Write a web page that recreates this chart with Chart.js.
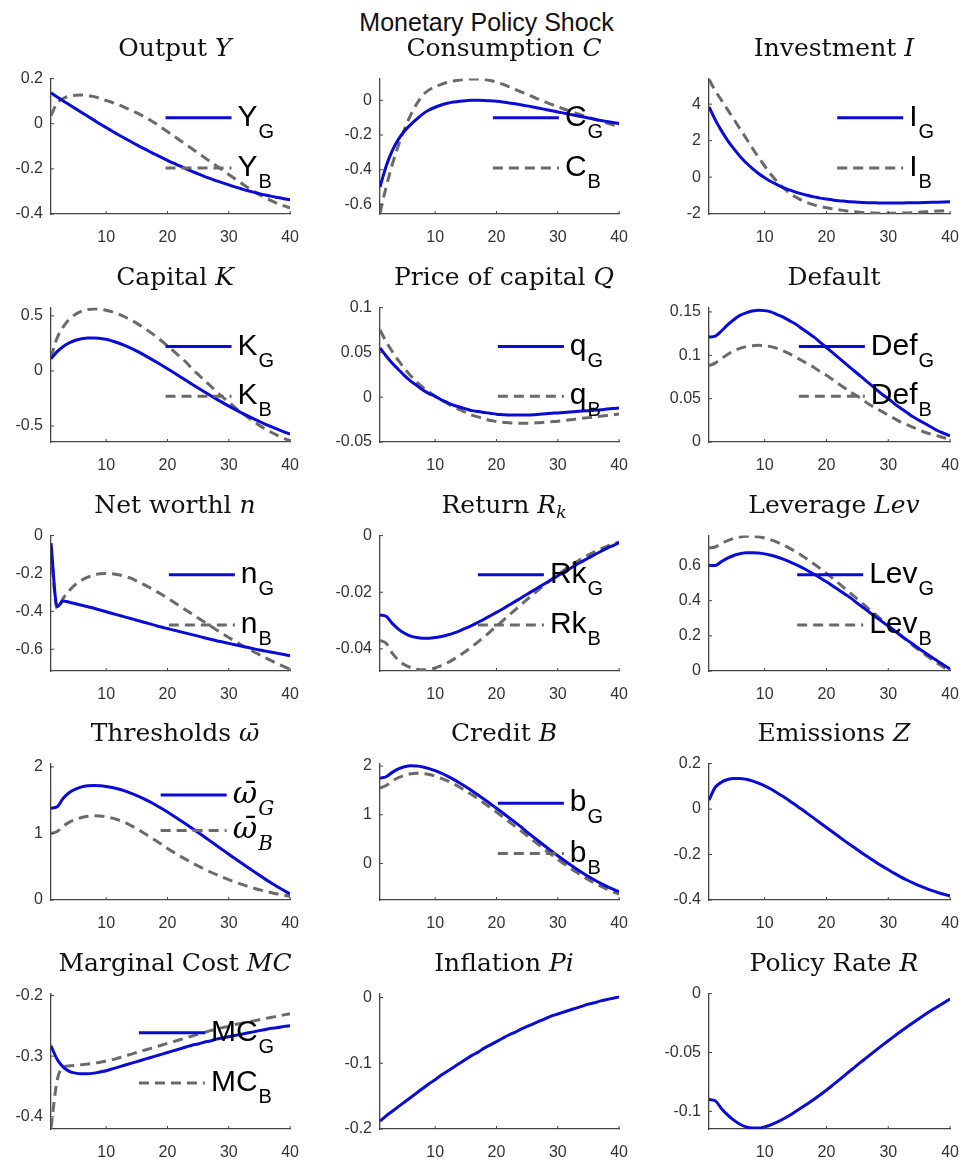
<!DOCTYPE html>
<html>
<head>
<meta charset="utf-8">
<script src="https://cdn.jsdelivr.net/npm/chart.js@4.4.1/dist/chart.umd.min.js"></script>
<style>
  body { margin: 0; background: #fff; width: 973px; height: 1166px; position: relative; overflow: hidden; }
  canvas { position: absolute; }
  .ttl { position: absolute; font-family: "DejaVu Serif", serif; font-size: 25px; line-height: 1; color: #111; white-space: nowrap; transform: translateX(-50%); }
  .ttl sub { font-size: 17px; vertical-align: -5px; }
  #sup { position: absolute; left: 0; width: 973px; top: 10px; text-align: center; font-family: "Liberation Sans", Arial, sans-serif; font-size: 25px; line-height: 1; color: #111; }
</style>
</head>
<body>
<div id="sup">Monetary Policy Shock</div>
<script>
// horizonte (trimestres) y marcas del eje x
const periods = Array.from({ length: 40 }, (_, i) => i + 1);
const xTicks = [10, 20, 30, 40];

// Output Y
const outputG = [0.137,0.119,0.101,0.084,0.067,0.050,0.033,0.016,-0.001,-0.017,-0.033,-0.049,-0.064,-0.079,-0.094,-0.108,-0.122,-0.136,-0.149,-0.162,-0.175,-0.187,-0.199,-0.211,-0.222,-0.233,-0.243,-0.253,-0.262,-0.271,-0.280,-0.288,-0.296,-0.303,-0.310,-0.316,-0.322,-0.327,-0.332,-0.337];
const outputB = [0.036,0.092,0.112,0.122,0.126,0.127,0.125,0.120,0.112,0.103,0.094,0.084,0.073,0.061,0.048,0.034,0.019,0.002,-0.016,-0.035,-0.054,-0.073,-0.092,-0.111,-0.130,-0.149,-0.168,-0.187,-0.206,-0.225,-0.244,-0.263,-0.281,-0.298,-0.314,-0.329,-0.342,-0.354,-0.364,-0.373];
const outputTicks = [-0.4, -0.2, 0, 0.2];

// Consumption C
const consG = [-0.500,-0.380,-0.290,-0.225,-0.177,-0.140,-0.108,-0.078,-0.056,-0.040,-0.027,-0.017,-0.010,-0.005,-0.002,0.000,0.000,-0.001,-0.003,-0.006,-0.010,-0.015,-0.020,-0.026,-0.032,-0.039,-0.046,-0.053,-0.060,-0.067,-0.074,-0.081,-0.088,-0.095,-0.102,-0.109,-0.116,-0.122,-0.128,-0.134];
const consB = [-0.650,-0.500,-0.370,-0.260,-0.165,-0.085,-0.020,0.030,0.060,0.078,0.092,0.103,0.111,0.117,0.121,0.123,0.123,0.120,0.114,0.105,0.093,0.079,0.064,0.049,0.034,0.019,0.004,-0.010,-0.024,-0.037,-0.050,-0.063,-0.075,-0.087,-0.098,-0.109,-0.120,-0.131,-0.141,-0.151];
const consTicks = [-0.6, -0.4, -0.2, 0];

// Investment I
const invG = [3.85,3.15,2.55,2.02,1.56,1.15,0.79,0.48,0.20,-0.03,-0.24,-0.41,-0.57,-0.70,-0.82,-0.92,-1.01,-1.08,-1.15,-1.20,-1.25,-1.29,-1.32,-1.35,-1.37,-1.39,-1.40,-1.41,-1.42,-1.42,-1.42,-1.42,-1.41,-1.41,-1.40,-1.39,-1.38,-1.37,-1.36,-1.35];
const invB = [5.35,4.75,4.22,3.70,3.18,2.66,2.13,1.60,1.09,0.61,0.16,-0.24,-0.58,-0.86,-1.09,-1.27,-1.41,-1.52,-1.61,-1.68,-1.74,-1.79,-1.84,-1.88,-1.91,-1.94,-1.96,-1.97,-1.98,-1.98,-1.98,-1.97,-1.96,-1.94,-1.92,-1.90,-1.88,-1.86,-1.84,-1.82];
const invTicks = [-2, 0, 2, 4];

// Capital K
const capG = [0.110,0.175,0.222,0.256,0.279,0.293,0.300,0.300,0.295,0.287,0.272,0.254,0.233,0.208,0.180,0.150,0.119,0.087,0.054,0.020,-0.015,-0.050,-0.085,-0.120,-0.155,-0.189,-0.223,-0.256,-0.288,-0.319,-0.349,-0.378,-0.406,-0.433,-0.459,-0.484,-0.508,-0.531,-0.553,-0.574];
const capB = [0.120,0.300,0.400,0.470,0.515,0.543,0.558,0.563,0.560,0.551,0.536,0.516,0.492,0.464,0.432,0.397,0.359,0.318,0.274,0.228,0.180,0.131,0.081,0.020,-0.032,-0.084,-0.136,-0.187,-0.237,-0.285,-0.331,-0.375,-0.417,-0.457,-0.494,-0.528,-0.559,-0.587,-0.612,-0.634];
const capTicks = [-0.5, 0, 0.5];

// Price of capital Q
const priceG = [0.055,0.046,0.038,0.031,0.024,0.018,0.013,0.008,0.004,0.001,-0.003,-0.006,-0.009,-0.011,-0.013,-0.015,-0.016,-0.017,-0.018,-0.019,-0.0195,-0.020,-0.020,-0.020,-0.0198,-0.0195,-0.019,-0.0185,-0.018,-0.0175,-0.017,-0.0165,-0.016,-0.0155,-0.015,-0.0145,-0.014,-0.0133,-0.0127,-0.012];
const priceB = [0.075,0.062,0.051,0.041,0.032,0.024,0.017,0.011,0.006,0.001,-0.003,-0.007,-0.011,-0.014,-0.017,-0.020,-0.022,-0.024,-0.026,-0.027,-0.028,-0.0285,-0.029,-0.029,-0.029,-0.0288,-0.0284,-0.028,-0.0274,-0.0268,-0.026,-0.0252,-0.0244,-0.0236,-0.0228,-0.022,-0.0212,-0.0204,-0.0196,-0.0188];
const priceTicks = [-0.05, 0, 0.05, 0.1];

// Default
const defG = [0.121,0.122,0.128,0.135,0.141,0.146,0.149,0.151,0.152,0.1515,0.150,0.147,0.144,0.140,0.136,0.131,0.126,0.121,0.115,0.109,0.103,0.097,0.091,0.085,0.079,0.073,0.067,0.061,0.055,0.050,0.044,0.039,0.034,0.029,0.025,0.021,0.017,0.013,0.010,0.007];
const defB = [0.088,0.091,0.096,0.101,0.105,0.108,0.110,0.111,0.1115,0.111,0.110,0.108,0.105,0.102,0.098,0.094,0.090,0.086,0.081,0.077,0.072,0.067,0.062,0.057,0.053,0.048,0.043,0.039,0.035,0.031,0.027,0.023,0.020,0.017,0.014,0.011,0.009,0.007,0.005,0.004];
const defTicks = [0, 0.05, 0.1, 0.15];

// Net worth n
const netG = [-0.040,-0.375,-0.345,-0.352,-0.360,-0.368,-0.376,-0.384,-0.393,-0.402,-0.411,-0.420,-0.429,-0.438,-0.447,-0.456,-0.465,-0.474,-0.483,-0.491,-0.499,-0.507,-0.515,-0.523,-0.531,-0.539,-0.547,-0.555,-0.562,-0.569,-0.576,-0.583,-0.590,-0.597,-0.604,-0.610,-0.616,-0.622,-0.628,-0.634];
const netB = [-0.080,-0.385,-0.330,-0.290,-0.258,-0.235,-0.219,-0.208,-0.202,-0.200,-0.202,-0.207,-0.215,-0.225,-0.240,-0.256,-0.273,-0.291,-0.310,-0.330,-0.351,-0.372,-0.393,-0.414,-0.435,-0.456,-0.477,-0.498,-0.518,-0.538,-0.557,-0.576,-0.594,-0.612,-0.629,-0.646,-0.662,-0.677,-0.692,-0.706];
const netTicks = [-0.6, -0.4, -0.2, 0];

// Return Rk
const retG = [-0.0280,-0.0285,-0.0310,-0.0330,-0.0345,-0.0355,-0.0360,-0.0362,-0.0362,-0.0360,-0.0356,-0.0351,-0.0344,-0.0336,-0.0327,-0.0317,-0.0306,-0.0295,-0.0283,-0.0271,-0.0259,-0.0246,-0.0233,-0.0220,-0.0207,-0.0194,-0.0181,-0.0168,-0.0155,-0.0142,-0.0129,-0.0116,-0.0103,-0.0091,-0.0079,-0.0067,-0.0056,-0.0045,-0.0035,-0.0025];
const retB = [-0.0370,-0.0380,-0.0415,-0.0440,-0.0456,-0.0466,-0.0472,-0.0474,-0.0472,-0.0467,-0.0459,-0.0449,-0.0437,-0.0423,-0.0408,-0.0392,-0.0375,-0.0357,-0.0339,-0.0320,-0.0301,-0.0282,-0.0263,-0.0244,-0.0225,-0.0207,-0.0189,-0.0171,-0.0154,-0.0138,-0.0122,-0.0107,-0.0093,-0.0080,-0.0068,-0.0057,-0.0047,-0.0038,-0.0030,-0.0023];
const retTicks = [-0.04, -0.02, 0];

// Leverage Lev
const levG = [0.600,0.600,0.622,0.642,0.657,0.667,0.672,0.673,0.671,0.666,0.658,0.648,0.636,0.622,0.606,0.589,0.570,0.550,0.529,0.507,0.484,0.461,0.437,0.413,0.385,0.359,0.333,0.307,0.281,0.255,0.229,0.203,0.177,0.152,0.127,0.103,0.079,0.056,0.033,0.011];
const levB = [0.700,0.705,0.725,0.742,0.754,0.762,0.766,0.766,0.763,0.756,0.746,0.733,0.717,0.699,0.679,0.657,0.633,0.608,0.582,0.555,0.527,0.498,0.469,0.439,0.409,0.379,0.349,0.319,0.289,0.259,0.230,0.201,0.173,0.145,0.118,0.092,0.067,0.043,0.020,0.000];
const levTicks = [0, 0.2, 0.4, 0.6];

// Thresholds omega bar
const thrG = [1.380,1.400,1.530,1.615,1.665,1.700,1.717,1.722,1.718,1.707,1.690,1.668,1.640,1.607,1.570,1.528,1.482,1.432,1.378,1.322,1.264,1.204,1.142,1.079,1.015,0.950,0.885,0.819,0.753,0.688,0.623,0.559,0.496,0.434,0.371,0.310,0.252,0.196,0.142,0.090];
const thrB = [1.000,1.030,1.110,1.170,1.210,1.240,1.258,1.265,1.262,1.250,1.230,1.202,1.168,1.120,1.070,1.015,0.957,0.898,0.840,0.775,0.718,0.663,0.610,0.559,0.511,0.465,0.421,0.380,0.341,0.305,0.271,0.239,0.209,0.181,0.155,0.131,0.109,0.089,0.071,0.055];
const thrTicks = [0, 1, 2];

// Credit B
const credG = [1.750,1.780,1.870,1.940,1.985,2.005,2.000,1.980,1.948,1.905,1.853,1.793,1.726,1.653,1.575,1.493,1.407,1.318,1.227,1.134,1.040,0.945,0.849,0.750,0.645,0.545,0.446,0.348,0.252,0.158,0.066,-0.023,-0.109,-0.191,-0.268,-0.340,-0.407,-0.469,-0.526,-0.578];
const credB = [1.550,1.600,1.690,1.760,1.810,1.840,1.850,1.845,1.825,1.792,1.748,1.695,1.633,1.564,1.489,1.409,1.325,1.237,1.146,1.053,0.958,0.862,0.765,0.668,0.571,0.470,0.370,0.272,0.176,0.083,-0.007,-0.094,-0.177,-0.256,-0.331,-0.401,-0.466,-0.526,-0.581,-0.631];
const credTicks = [0, 1, 2];

// Emissions Z
const emis = [0.040,0.095,0.118,0.130,0.135,0.135,0.131,0.124,0.114,0.102,0.088,0.072,0.055,0.037,0.018,-0.001,-0.021,-0.041,-0.061,-0.081,-0.101,-0.121,-0.141,-0.160,-0.179,-0.198,-0.216,-0.234,-0.251,-0.267,-0.283,-0.298,-0.312,-0.325,-0.337,-0.348,-0.358,-0.367,-0.375,-0.382];
const emisTicks = [-0.4, -0.2, 0, 0.2];

// Marginal cost MC
const mcG = [-0.283,-0.305,-0.318,-0.325,-0.328,-0.329,-0.329,-0.328,-0.326,-0.324,-0.321,-0.318,-0.315,-0.312,-0.309,-0.306,-0.303,-0.300,-0.297,-0.294,-0.291,-0.288,-0.285,-0.282,-0.280,-0.277,-0.275,-0.272,-0.270,-0.268,-0.266,-0.264,-0.262,-0.260,-0.258,-0.256,-0.254,-0.253,-0.251,-0.250];
const mcB = [-0.418,-0.340,-0.318,-0.316,-0.315,-0.314,-0.313,-0.312,-0.310,-0.308,-0.306,-0.303,-0.300,-0.297,-0.294,-0.291,-0.288,-0.285,-0.282,-0.279,-0.276,-0.273,-0.270,-0.267,-0.264,-0.261,-0.258,-0.256,-0.253,-0.251,-0.248,-0.246,-0.244,-0.242,-0.240,-0.238,-0.236,-0.234,-0.232,-0.230];
const mcTicks = [-0.4, -0.3, -0.2];

// Inflation Pi
const infl = [-0.188,-0.180,-0.173,-0.166,-0.159,-0.152,-0.145,-0.138,-0.131,-0.125,-0.118,-0.112,-0.106,-0.100,-0.094,-0.088,-0.083,-0.077,-0.072,-0.067,-0.062,-0.057,-0.053,-0.048,-0.044,-0.040,-0.036,-0.032,-0.028,-0.025,-0.022,-0.019,-0.016,-0.013,-0.010,-0.008,-0.005,-0.003,-0.001,0.001];
const inflTicks = [-0.2, -0.1, 0];

// Policy rate R
const rate = [-0.0900,-0.0910,-0.0975,-0.1030,-0.1075,-0.1110,-0.1132,-0.1142,-0.1142,-0.1132,-0.1115,-0.1092,-0.1065,-0.1035,-0.1002,-0.0968,-0.0933,-0.0897,-0.0859,-0.0820,-0.0778,-0.0735,-0.0692,-0.0649,-0.0606,-0.0564,-0.0522,-0.0481,-0.0440,-0.0400,-0.0361,-0.0322,-0.0284,-0.0247,-0.0211,-0.0176,-0.0142,-0.0109,-0.0077,-0.0046];
const rateTicks = [-0.1, -0.05, 0];

const AZUL = "#0b0bd6";
const GRIS = "#6a6a6a";

// ubicacion de los ejes (px) en la figura
const colLeft = [51, 380, 709];
const colWidth = [248, 248, 250];
const rowTop = [71, 300, 528, 756, 986];
const rowHeight = [143, 142, 143, 144, 143];

const paneles = [
  { title: "Output <i>Y</i>", series: [outputG, outputB], y: [-0.4, 0.2], ticks: outputTicks, legend: [["Y", "G"], ["Y", "B"]] },
  { title: "Consumption <i>C</i>", series: [consG, consB], y: [-0.655, 0.125], ticks: consTicks, legend: [["C", "G"], ["C", "B"]] },
  { title: "Investment <i>I</i>", series: [invG, invB], y: [-2.02, 5.4], ticks: invTicks, legend: [["I", "G"], ["I", "B"]] },
  { title: "Capital <i>K</i>", series: [capG, capB], y: [-0.645, 0.575], ticks: capTicks, legend: [["K", "G"], ["K", "B"]] },
  { title: "Price of capital <i>Q</i>", series: [priceG, priceB], y: [-0.05, 0.1], ticks: priceTicks, legend: [["q", "G"], ["q", "B"]] },
  { title: "Default", series: [defG, defB], y: [0, 0.155], ticks: defTicks, legend: [["Def", "G"], ["Def", "B"]] },
  { title: "Net worthl <i>n</i>", series: [netG, netB], y: [-0.715, 0], ticks: netTicks, legend: [["n", "G"], ["n", "B"]] },
  { title: "Return <i>R<sub>k</sub></i>", series: [retG, retB], y: [-0.0478, 0], ticks: retTicks, legend: [["Rk", "G"], ["Rk", "B"]] },
  { title: "Leverage <i>Lev</i>", series: [levG, levB], y: [0, 0.77], ticks: levTicks, legend: [["Lev", "G"], ["Lev", "B"]] },
  { title: "Thresholds <i>\u03c9\u0304</i>", series: [thrG, thrB], y: [0, 2.05], ticks: thrTicks, legend: [["\u03c9\u0304", "G"], ["\u03c9\u0304", "B"]], math: true },
  { title: "Credit <i>B</i>", series: [credG, credB], y: [-0.75, 2.05], ticks: credTicks, legend: [["b", "G"], ["b", "B"]] },
  { title: "Emissions <i>Z</i>", series: [emis], y: [-0.4, 0.2], ticks: emisTicks },
  { title: "Marginal Cost <i>MC</i>", series: [mcG, mcB], y: [-0.42, -0.197], ticks: mcTicks, legend: [["MC", "G"], ["MC", "B"]] },
  { title: "Inflation <i>Pi</i>", series: [infl], y: [-0.2, 0.006], ticks: inflTicks },
  { title: "Policy Rate <i>R</i>", series: [rate], y: [-0.115, 0], ticks: rateTicks },
];

// leyenda estilo matlab: linea + texto con subindice
const leyendaMatlab = {
  id: "leyendaMatlab",
  afterDatasetsDraw(chart, args, opts) {
    if (!opts.entries) return;
    const { ctx, chartArea: a } = chart;
    const h = a.bottom - a.top;
    const fMain = opts.math ? 'italic 30px "DejaVu Serif"' : '30px "Liberation Sans"';
    const fSub = opts.math ? 'italic 20px "DejaVu Serif"' : '20px "Liberation Sans"';
    const pos = opts.math ? [0.23, 0.49] : [0.29, 0.66];
    ctx.save();
    let maxW = 0;
    opts.entries.forEach((e) => {
      ctx.font = fMain;
      let w = ctx.measureText(e[0]).width;
      ctx.font = fSub;
      w += ctx.measureText(e[1]).width;
      maxW = Math.max(maxW, w);
    });
    const tx = a.right - 17 - maxW;
    opts.entries.forEach((e, i) => {
      const ds = chart.data.datasets[i];
      const y = a.top + pos[i] * h;
      ctx.strokeStyle = ds.borderColor;
      ctx.lineWidth = ds.borderWidth;
      ctx.setLineDash(ds.borderDash || []);
      ctx.beginPath();
      ctx.moveTo(tx - 72, y);
      ctx.lineTo(tx - 6, y);
      ctx.stroke();
      ctx.setLineDash([]);
      ctx.fillStyle = "#000";
      ctx.textBaseline = "alphabetic";
      ctx.font = fMain;
      ctx.fillText(e[0], tx, y + 8);
      const w = ctx.measureText(e[0]).width;
      ctx.font = fSub;
      ctx.fillText(e[1], tx + w + 1, y + 20);
    });
    ctx.restore();
  },
};

// marcas cortas hacia adentro en los ejes
const marcas = {
  id: "marcas",
  afterDraw(chart) {
    const { ctx, chartArea: a, scales } = chart;
    ctx.save();
    ctx.strokeStyle = "#444";
    ctx.lineWidth = 1;
    ctx.beginPath();
    scales.x.ticks.forEach((t) => {
      const px = scales.x.getPixelForValue(t.value);
      ctx.moveTo(px, a.bottom);
      ctx.lineTo(px, a.bottom - 3);
    });
    scales.y.ticks.forEach((t) => {
      const py = scales.y.getPixelForValue(t.value);
      ctx.moveTo(a.left, py);
      ctx.lineTo(a.left + 3, py);
    });
    ctx.stroke();
    ctx.restore();
  },
};

const fuenteTicks = { family: "Liberation Sans", size: 16 };

paneles.forEach((p, k) => {
  const c = k % 3;
  const r = Math.floor(k / 3);
  const L = 50, T = 10, R = 14, B = 36;

  const cv = document.createElement("canvas");
  cv.width = L + colWidth[c] + R;
  cv.height = T + rowHeight[r] + B;
  cv.style.left = colLeft[c] - L + "px";
  cv.style.top = rowTop[r] - T + "px";
  document.body.appendChild(cv);

  const t = document.createElement("div");
  t.className = "ttl";
  t.innerHTML = p.title;
  t.style.left = colLeft[c] + colWidth[c] / 2 + "px";
  t.style.top = rowTop[r] - 36 + "px";
  document.body.appendChild(t);

  const datasets = p.series.map((s, i) => ({
    data: periods.map((x, j) => ({ x: x, y: s[j] })),
    borderColor: i === 0 ? AZUL : GRIS,
    borderWidth: 3,
    borderDash: i === 0 ? [] : [10, 6],
    pointRadius: 0,
    cubicInterpolationMode: "monotone",
    fill: false,
  }));

  new Chart(cv, {
    type: "line",
    data: { datasets },
    plugins: [leyendaMatlab, marcas],
    options: {
      responsive: false,
      animation: false,
      devicePixelRatio: 1,
      layout: { padding: { top: T, right: R, left: 0, bottom: 0 } },
      plugins: {
        legend: { display: false },
        tooltip: { enabled: false },
        leyendaMatlab: { entries: p.legend, math: p.math },
      },
      scales: {
        x: {
          type: "linear",
          min: 1,
          max: 40,
          afterBuildTicks: (s) => { s.ticks = xTicks.map((v) => ({ value: v })); },
          afterFit: (s) => { s.height = B; },
          grid: { display: false, drawTicks: false },
          border: { color: "#444", width: 1.3 },
          ticks: { padding: 14, color: "#333", font: fuenteTicks, maxRotation: 0, autoSkip: false },
        },
        y: {
          min: p.y[0],
          max: p.y[1],
          afterBuildTicks: (s) => { s.ticks = p.ticks.map((v) => ({ value: v })); },
          afterFit: (s) => { s.width = L; },
          grid: { display: false, drawTicks: false },
          border: { color: "#444", width: 1.3 },
          ticks: {
            padding: 8,
            color: "#333",
            font: fuenteTicks,
            callback: (v) => String(+v.toFixed(3)),
          },
        },
      },
    },
  });
});
</script>
</body>
</html>
